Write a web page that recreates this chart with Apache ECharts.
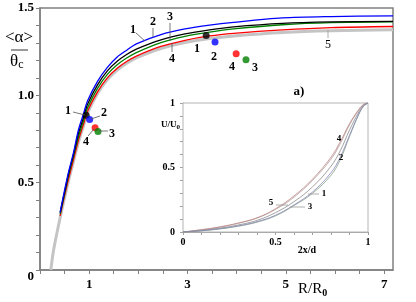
<!DOCTYPE html>
<html><head><meta charset="utf-8">
<script src="https://cdn.jsdelivr.net/npm/echarts@6/dist/echarts.min.js"></script>
<style>html,body{margin:0;padding:0;background:#fff}#c{width:416px;height:302px}</style>
</head><body><div id="c"></div>
<script>
// ---- main chart data ----
const mainX  = [0.41, 0.48, 0.58, 0.68, 0.78, 0.88, 0.97, 1.17, 1.37, 1.57, 1.77, 1.96, 2.46, 2.95, 3.45, 3.94, 4.93, 5.92, 7.18];
const curve1 = [0.33, 0.43, 0.56, 0.67, 0.80, 0.89, 0.97, 1.08, 1.16, 1.22, 1.26, 1.295, 1.348, 1.38, 1.402, 1.418, 1.443, 1.451, 1.455]; // blue
const curve2 = [0.33, 0.42, 0.55, 0.66, 0.78, 0.87, 0.95, 1.06, 1.14, 1.195, 1.235, 1.265, 1.318, 1.352, 1.375, 1.392, 1.412, 1.42, 1.423]; // black
const curve3 = [0.32, 0.41, 0.54, 0.65, 0.76, 0.85, 0.93, 1.04, 1.12, 1.175, 1.215, 1.245, 1.302, 1.338, 1.362, 1.38, 1.404, 1.416, 1.42]; // green
const curve4 = [0.31, 0.40, 0.52, 0.63, 0.74, 0.83, 0.91, 1.02, 1.10, 1.155, 1.195, 1.225, 1.28, 1.315, 1.34, 1.355, 1.375, 1.388, 1.394]; // red
const grayX  = [0.22, 0.28, 0.41, 0.48, 0.58, 0.68, 0.78, 0.88, 0.97, 1.17, 1.37, 1.57, 1.77, 1.96, 2.46, 2.95, 3.45, 3.94, 4.93, 5.92, 7.18];
const curve5 = [0, 0.12, 0.30, 0.39, 0.51, 0.62, 0.73, 0.82, 0.90, 1.01, 1.09, 1.145, 1.185, 1.215, 1.268, 1.302, 1.325, 1.34, 1.36, 1.37, 1.375]; // gray
// points: order black(1), blue(2), red(4), green(3)
const dotsUpperX = [3.38, 3.56, 3.99, 4.19];
const dotsUpperY = [1.343, 1.305, 1.238, 1.204];
const dotsLowerX = [0.94, 1.01, 1.12, 1.18];
const dotsLowerY = [0.886, 0.861, 0.815, 0.793];
const mainXTickLabels = ['1', '3', '5', '7'];
const mainYTickLabels = ['0', '0.5', '1.0', '1.5'];
// ---- inset data ----
const insetX = [0, 0.1, 0.2, 0.3, 0.4, 0.5, 0.6, 0.7, 0.8, 0.85, 0.9, 0.95, 0.975, 1.0];
const inset1 = [0, 0.010, 0.026, 0.048, 0.080, 0.130, 0.210, 0.310, 0.460, 0.580, 0.750, 0.915, 0.975, 1.0];
const inset2 = [0, 0.012, 0.030, 0.055, 0.090, 0.150, 0.235, 0.350, 0.510, 0.630, 0.790, 0.930, 0.980, 1.0];
const inset3 = [0, 0.009, 0.024, 0.045, 0.076, 0.125, 0.205, 0.300, 0.440, 0.560, 0.740, 0.910, 0.972, 1.0];
const inset4 = [0, 0.018, 0.040, 0.070, 0.110, 0.180, 0.280, 0.410, 0.580, 0.700, 0.840, 0.950, 0.988, 1.0];
const inset5 = [0, 0.017, 0.038, 0.068, 0.108, 0.175, 0.270, 0.400, 0.565, 0.685, 0.830, 0.945, 0.986, 1.0];
const insetTickLabels = ['0', '0.5', '1'];

const zip = (xs, ys) => xs.map((x, i) => [x, ys[i]]);
const SERIF = '"Liberation Serif", "DejaVu Serif", serif';
const near = (a, b) => Math.abs(a - b) < 1e-6;

const chart = echarts.init(document.getElementById('c'), null, {renderer: 'canvas'});

function mainLine(name, xs, ys, color, width, z) {
  return {name, type: 'line', xAxisIndex: 0, yAxisIndex: 0, data: zip(xs, ys), smooth: 0.3,
    showSymbol: false, lineStyle: {color, width}, z, silent: true, animation: false};
}
function insetLine(name, ys, color) {
  return {name, type: 'line', xAxisIndex: 1, yAxisIndex: 1, data: zip(insetX, ys), smooth: 0.4,
    showSymbol: false, lineStyle: {color, width: 0.8}, z: 5, silent: true, animation: false};
}
const dotColors = ['#000000', '#0000ff', '#ff0000', '#008000'];
function dots(xs, ys) {
  return {type: 'scatter', xAxisIndex: 0, yAxisIndex: 0, symbolSize: 7, z: 6, silent: true, animation: false,
    data: xs.map((x, i) => ({value: [x, ys[i]], itemStyle: {color: dotColors[i]}}))};
}

const option = {
  animation: false,
  backgroundColor: '#fff',
  grid: [
    {left: 40, top: 8, width: 353, height: 262, show: true, borderColor: '#808080', borderWidth: 1.5, containLabel: false},
    {left: 183, top: 103, width: 185, height: 129, show: true, borderColor: '#b4b4b4', borderWidth: 1, backgroundColor: '#fff', z: 4, containLabel: false}
  ],
  xAxis: [
    {type: 'value', gridIndex: 0, min: 0, max: 7.18, interval: 0.5,
     axisLine: {lineStyle: {color: '#808080', width: 1.5}}, axisTick: {length: 4, lineStyle: {color: '#808080'}},
     splitLine: {show: false},
     axisLabel: {margin: 8, color: '#000', fontFamily: SERIF, fontWeight: 'bold', fontSize: 13, showMaxLabel: false,
       formatter: v => { const s = String(Math.round(v * 10) / 10); return mainXTickLabels.includes(s) ? s : ''; }}},
    {type: 'value', gridIndex: 1, min: 0, max: 1, interval: 0.1,
     axisLine: {lineStyle: {color: '#a0a0a0', width: 1}}, axisTick: {length: 3, lineStyle: {color: '#a0a0a0'}},
     splitLine: {show: false},
     axisLabel: {margin: 5, color: '#000', fontFamily: SERIF, fontWeight: 'bold', fontSize: 10,
       formatter: v => { const l = insetTickLabels.find(t => near(Number(t), v)); return l || ''; }}}
  ],
  yAxis: [
    {type: 'value', gridIndex: 0, min: 0, max: 1.5, interval: 0.1,
     axisLine: {lineStyle: {color: '#808080', width: 1.5}}, axisTick: {length: 4, lineStyle: {color: '#808080'}},
     splitLine: {show: false},
     axisLabel: {margin: 6, color: '#000', fontFamily: SERIF, fontWeight: 'bold', fontSize: 13,
       formatter: v => { const l = mainYTickLabels.find(t => near(Number(t), v)); if (!l) return ''; return l === '0' ? '{z|0}' : l; },
       rich: {z: {padding: [14, 0, 0, 0], fontFamily: SERIF, fontWeight: 'bold', fontSize: 13, color: '#000'}}}},
    {type: 'value', gridIndex: 1, min: 0, max: 1, interval: 0.1,
     axisLine: {lineStyle: {color: '#a0a0a0', width: 1}}, axisTick: {length: 3, lineStyle: {color: '#a0a0a0'}},
     splitLine: {show: false},
     axisLabel: {margin: 8, color: '#000', fontFamily: SERIF, fontWeight: 'bold', fontSize: 10,
       formatter: v => { const l = insetTickLabels.find(t => near(Number(t), v)); return l || ''; }}}
  ],
  series: [
    mainLine('5', grayX, curve5, '#c4c4c4', 3, 1),
    mainLine('4', mainX, curve4, '#ff0000', 1.3, 2),
    mainLine('3', mainX, curve3, '#008000', 1.3, 2),
    mainLine('2', mainX, curve2, '#000000', 1.3, 3),
    mainLine('1', mainX, curve1, '#0000ff', 1.3, 3),
    dots(dotsUpperX, dotsUpperY),
    dots(dotsLowerX, dotsLowerY),
    insetLine('i5', inset5, '#b0a0a0'),
    insetLine('i4', inset4, '#c08888'),
    insetLine('i2', inset2, '#8a8a8a'),
    insetLine('i3', inset3, '#88a088'),
    insetLine('i1', inset1, '#8888b8')
  ]
};
chart.setOption(option);

// annotations (text and leader lines)
const g = [];
function txt(s, x, y, size, bold) {
  g.push({type: 'text', x, y, z: 20, style: {text: s, fill: '#000', font: (bold ? 'bold ' : '') + size + 'px ' + SERIF, textAlign: 'center', textVerticalAlign: 'middle'}});
}
function ln(x1, y1, x2, y2, color) {
  g.push({type: 'line', z: 19, shape: {x1, y1, x2, y2}, style: {stroke: color || '#555', lineWidth: 0.8}});
}
// curve labels
txt('1', 133, 30, 12, true); ln(136, 33, 145, 41);
txt('2', 153, 22, 12, true); ln(153, 28, 153, 37);
txt('3', 170, 17, 12, true); ln(170, 23, 170, 41);
txt('4', 172, 59, 12, true); ln(172, 52, 172, 43);
txt('5', 328, 45, 12, false); ln(328, 30, 328, 38, '#999');
// upper point labels
txt('1', 197, 49, 12, true); txt('2', 214, 57, 12, true); txt('4', 232, 67, 12, true); txt('3', 255, 68, 12, true);
// lower point labels
txt('1', 68, 111, 12, true); ln(73, 112, 85, 115);
txt('2', 104, 113, 12, true); ln(91, 119, 100, 116);
txt('4', 86, 142, 12, true); ln(88, 136, 94, 129);
txt('3', 112, 134, 12, true); ln(99, 131, 108, 131);
// inset labels
txt('4', 339, 139, 9, true); txt('2', 341, 158, 9, true);
txt('1', 324, 194, 9, true); ln(308, 194, 319, 194, '#999');
txt('3', 310, 207, 9, true); ln(290, 207, 305, 207, '#999');
txt('5', 271, 203, 9, true); ln(276, 205, 288, 205, '#999');
txt('a)', 299, 92, 13, true);
txt('2x/d', 307, 250, 10, true);
// U/U0 inset y title
g.push({type: 'text', x: 161, y: 119, z: 20, style: {text: '{a|U/U}{s|0}', rich: {a: {font: 'bold 9px ' + SERIF, fill: '#000'}, s: {font: 'bold 7px ' + SERIF, fill: '#000', padding: [5, 0, 0, 0]}}}});
// main y title
txt('<α>', 19, 38, 17, false);
ln(11, 50, 28, 50, '#000');
g.push({type: 'text', x: 10, y: 53, z: 20, style: {text: '{a|θ}{s|c}', rich: {a: {font: '17px ' + SERIF, fill: '#000'}, s: {font: '12px ' + SERIF, fill: '#000', padding: [6, 0, 0, 0]}}}});
// main x title
g.push({type: 'text', x: 298, y: 281, z: 20, style: {text: '{a|R/R}{s|0}', rich: {a: {font: '15px ' + SERIF, fill: '#000'}, s: {font: 'bold 10px ' + SERIF, fill: '#000', padding: [7, 0, 0, 0]}}}});
chart.setOption({graphic: g});
</script>
</body></html>
